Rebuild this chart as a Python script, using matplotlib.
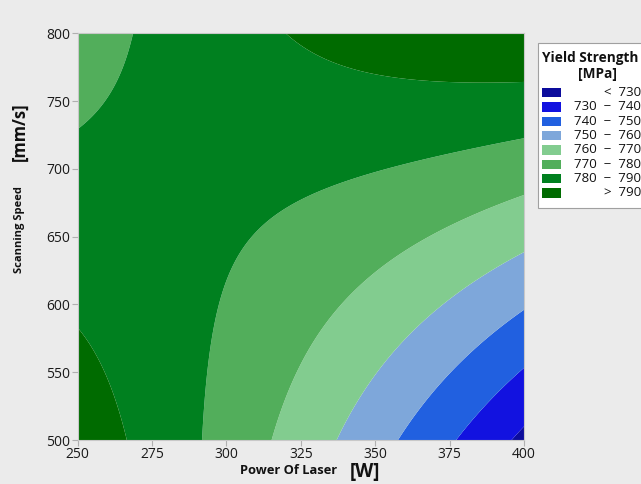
import numpy as np
import matplotlib
matplotlib.use("Agg")
import matplotlib.pyplot as plt
from matplotlib.patches import Rectangle

# ---- data: quadratic response-surface model ----
# coded variables: x1 = (Power-325)/75, x2 = (Speed-650)/150
b0 = 777.7
b1 = -11.3      # power
b2 = 12.6       # speed
b11 = -3.7      # power^2
b22 = 0.5       # speed^2
b12 = 22.9      # power*speed

power_range = [250, 400]
speed_range = [500, 800]
levels = [600, 730, 740, 750, 760, 770, 780, 790, 900]
legend_labels = ["<  730", "730  \u2212  740", "740  \u2212  750", "750  \u2212  760",
                 "760  \u2212  770", "770  \u2212  780", "780  \u2212  790", ">  790"]
colors = ["#0c0c9c", "#1212e0", "#2160e0", "#7ea7da",
          "#82cc8f", "#52ae5b", "#00801f", "#006b00"]
x_ticks = [250, 275, 300, 325, 350, 375, 400]
y_ticks = [500, 550, 600, 650, 700, 750, 800]

P = np.linspace(power_range[0], power_range[1], 301)
S = np.linspace(speed_range[0], speed_range[1], 301)
PP, SS = np.meshgrid(P, S)
x1 = (PP - 325) / 75
x2 = (SS - 650) / 150
Y = b0 + b1 * x1 + b2 * x2 + b11 * x1 ** 2 + b22 * x2 ** 2 + b12 * x1 * x2

W, H = 641, 484
fig = plt.figure(figsize=(W / 100, H / 100), dpi=100)
fig.patch.set_facecolor("#ebebeb")

def fx(px):
    return px / W

def fy(py):
    return 1 - py / H

ax = fig.add_axes([fx(77.5), fy(440), fx(524) - fx(77.5), fy(33.3) - fy(440)])
ax.contourf(PP, SS, Y, levels=levels, colors=colors, antialiased=True)
ax.set_xlim(power_range)
ax.set_ylim(speed_range)
ax.set_xticks(x_ticks)
ax.set_yticks(y_ticks)
font = "Open Sans"
for lab in ax.get_xticklabels() + ax.get_yticklabels():
    lab.set_fontfamily(font)
    lab.set_fontsize(10)
    lab.set_color("#1a1a1a")
ax.tick_params(length=4, width=0.8, color="#b0b0b0", pad=1)
for sp in ax.spines.values():
    sp.set_color("#c8c8c8")
    sp.set_linewidth(0.8)

# axis labels
fig.text(fx(20), fy(230), "Scanning Speed", rotation=90, ha="center", va="center",
         fontsize=8, fontweight="bold", family=font, color="#111111")
fig.text(fx(20), fy(132), "[mm/s]", rotation=90, ha="center", va="center",
         fontsize=12, fontweight="bold", family=font, color="#111111")
fig.text(fx(288.5), fy(471), "Power Of Laser", ha="center", va="center",
         fontsize=9.3, fontweight="bold", family=font, color="#111111")
fig.text(fx(364.5), fy(472), "[W]", ha="center", va="center",
         fontsize=13.5, fontweight="bold", family=font, color="#111111")

# legend (manual)
fig.patches.append(Rectangle((fx(538), fy(208)), fx(660) - fx(538), fy(43) - fy(208),
                             transform=fig.transFigure, facecolor="white",
                             edgecolor="#a0a0a0", linewidth=0.8))
fig.text(fx(590.5), fy(58), "Yield Strength", ha="center", va="center",
         fontsize=9.8, fontweight="bold", family=font, color="#111111")
fig.text(fx(597.5), fy(74), "[MPa]", ha="center", va="center",
         fontsize=9.8, fontweight="bold", family=font, color="#111111")
row0 = 92.7
dy = 14.3
for i, (lab, col) in enumerate(zip(legend_labels, colors)):
    yc = row0 + i * dy
    fig.patches.append(Rectangle((fx(542), fy(yc + 4.7)), fx(561) - fx(542), fy(yc - 4.7) - fy(yc + 4.7),
                                 transform=fig.transFigure, facecolor=col, edgecolor="none"))
    fig.text(fx(641), fy(yc), lab, ha="right", va="center", fontsize=9.5,
             family=font, color="#111111")

fig.savefig("out.png", dpi=100, facecolor=fig.get_facecolor())
